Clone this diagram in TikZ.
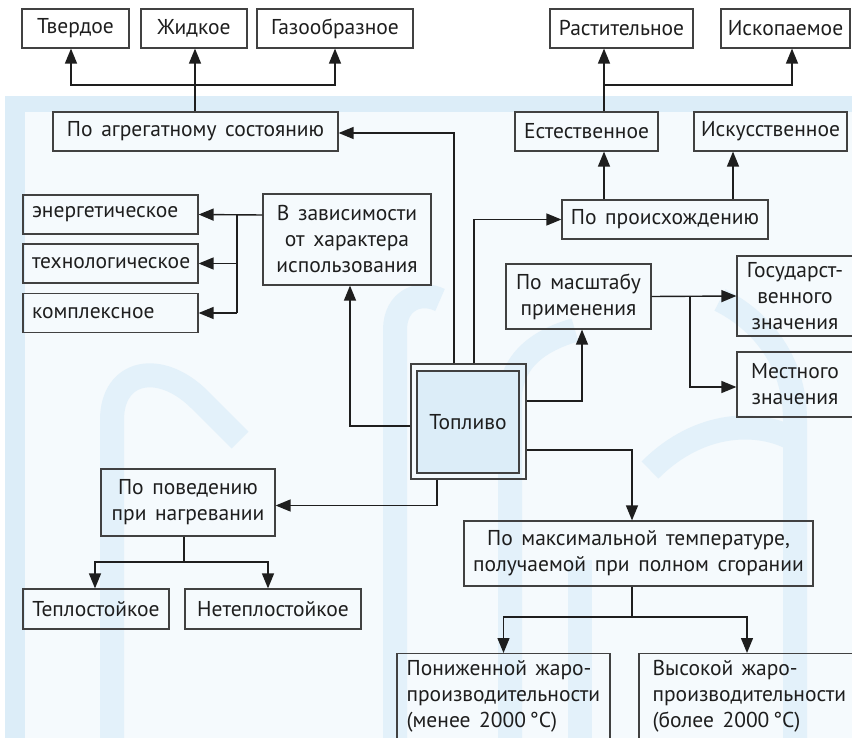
\documentclass[tikz,border=0pt]{standalone}
\usepackage{fontspec}
\setmainfont[WordSpace=1.5]{PT Sans}
\usetikzlibrary{arrows.meta,calc}
\definecolor{bandblue}{RGB}{220,237,248}
\definecolor{paleblue}{RGB}{245,250,253}
\definecolor{wmblue}{RGB}{227,241,250}
\definecolor{linegray}{RGB}{30,30,30}
\definecolor{boxgray}{RGB}{65,65,65}
\definecolor{txt}{RGB}{30,30,30}
\begin{document}
\begin{tikzpicture}[x=1pt,y=-1pt,
  font=\fontsize{21.5}{26}\selectfont,
  box/.style={draw=boxgray, line width=1.2pt, text=txt, inner sep=0pt, align=center},
  lbox/.style={draw=boxgray, line width=1.2pt, text=txt, inner ysep=0pt, inner xsep=9pt, align=left},
  arr/.style={-{Triangle[length=15pt,width=12pt]}, line width=1.4pt, draw=linegray},
  ln/.style={line width=1.4pt, draw=linegray},
  wm/.style={draw=wmblue, line width=24pt}]
\useasboundingbox (0,0) rectangle (852,738);
\clip (0,0) rectangle (852,738);
% background
\fill[white] (0,0) rectangle (852,738);
\fill[bandblue] (5,96) rectangle (852,738);
\fill[paleblue] (25,112) rectangle (852,738);
\draw[wm] (112,738) -- (112,420) .. controls (112,370) and (160,360) .. (200,400) -- (240,440);
\draw[wm] (395,738) -- (395,330) .. controls (395,300) and (420,290) .. (440,300);
\draw[wm] (510,738) -- (510,400) .. controls (510,360) and (540,340) .. (575,330);
\draw[wm] (580,738) -- (580,560);
\draw[wm] (795,738) -- (795,420) .. controls (795,360) and (760,320) .. (720,300);
\draw[wm] (650,470) .. controls (700,420) and (760,420) .. (795,440);
% top row
\node[box, minimum width=107, minimum height=39] (tv) at (75.5,28.5) {Твердое};
\node[box, minimum width=106, minimum height=39] (zh) at (194,28.5) {Жидкое};
\node[box, minimum width=156, minimum height=39] (gaz) at (335,28.5) {Газообразное};
\node[box, minimum width=143, minimum height=39] (rast) at (621.5,28.5) {Растительное};
\node[box, minimum width=129, minimum height=39] (iskop) at (785.5,28.5) {Ископаемое};
% second row
\node[box, minimum width=285, minimum height=39] (agr) at (195.5,131.5) {По агрегатному состоянию};
\node[box, minimum width=143, minimum height=39] (est) at (586.5,131.5) {Естественное};
\node[box, minimum width=153, minimum height=39] (iskus) at (770.5,131.5) {Искусственное};
\node[box, minimum width=206, minimum height=39] (proish) at (665,219.5) {По происхождению};
% left column
\node[lbox, text width=157, minimum height=39] (en) at (110.5,214.5) {энергетическое};
\node[lbox, text width=157, minimum height=39] (teh) at (110.5,263.5) {технологическое};
\node[lbox, text width=157, minimum height=39] (kompl) at (110.5,313) {комплексное};
\node[box, minimum width=168, minimum height=91] (zav) at (347,239.5) {В зависимости\\от характера\\использования};
% centre
\node[draw=boxgray, line width=1.2pt, minimum width=115, minimum height=115, inner sep=0pt] (top) at (468.5,421.5) {};
\node[box, fill=bandblue, minimum width=102, minimum height=102] (topin) at (468,422) {Топливо};
% right middle
\node[box, minimum width=145, minimum height=65] (masht) at (578.5,296.5) {По масштабу\\применения};
\node[box, minimum width=116, minimum height=80] (gos) at (795,296) {Государст-\\венного\\значения};
\node[box, minimum width=116, minimum height=65] (mest) at (795,384.5) {Местного\\значения};
% lower left
\node[box, minimum width=174, minimum height=67] (pov) at (188,502.5) {По поведению\\при нагревании};
\node[box, minimum width=146, minimum height=40] (tepl) at (96,609) {Теплостойкое};
\node[box, minimum width=176, minimum height=40] (netepl) at (273,609) {Нетеплостойкое};
% lower right
\node[box, minimum width=349, minimum height=65] (maks) at (638.5,553.5) {По максимальной температуре,\\получаемой при полном сгорании};
\node[box, anchor=north, minimum width=213, minimum height=120] (ponizh) at (503.5,653) {};
\node[anchor=north west, align=left, inner sep=0pt, text=txt] (ponizhT) at ($(ponizh.north west)+(10,7)$) {Пониженной жаро-\\производительности\\(менее 2000\,°C)};
\node[box, anchor=north, minimum width=216, minimum height=120] (vys) at (747,653) {};
\node[anchor=north west, align=left, inner sep=0pt, text=txt] (vysT) at ($(vys.north west)+(14,7)$) {Высокой жаро-\\производительности\\(более 2000\,°C)};
% connectors: aggregate state
\coordinate (jA) at (195,85);
\draw[ln] (agr.north -| jA) -- (jA);
\draw[arr] (jA) -- (jA |- zh.south);
\draw[arr] (jA) -| ($(tv.south)+(-4.5,0)$);
\draw[arr] (jA) -| (gaz.south);
% origin
\coordinate (jB) at (604,85);
\draw[ln] (est.north -| jB) -- (jB);
\draw[arr] (jB) -- (jB |- rast.south);
\draw[arr] (jB) -| ($(iskop.south)+(6.5,0)$);
\draw[arr] (proish.north -| jB) -- (jB |- est.south);
\coordinate (jB2) at (733,200);
\draw[arr] (proish.north -| jB2) -- (jB2 |- iskus.south);
% from fuel
\draw[arr] ($(top.north)+(-14.5,0)$) |- ($(agr.east)+(0,1.5)$);
\draw[arr] ($(top.north)+(5.5,0)$) |- (proish.west);
\draw[arr] ($(top.west)+(0,4.5)$) -| ($(zav.south)+(3,0)$);
\draw[arr] ($(top.east)+(0,-20.5)$) -| ($(masht.south)+(3.5,0)$);
\draw[arr] ($(top.east)+(0,28.5)$) -| ($(maks.north)+(-6.5,0)$);
\draw[arr] ($(top.south)+(-31.5,0)$) |- ($(pov.east)+(0,3)$);
% usage
\coordinate (jC) at (237,215);
\draw[arr] (zav.west |- jC) -- (en.east);
\draw[ln] (jC) -- (jC |- kompl.east);
\draw[arr] (jC |- teh.east) -- (teh.east);
\draw[arr] (jC |- kompl.east) -- (kompl.east);
% scale
\coordinate (jD) at (690,297);
\draw[arr] (masht.east) -- (gos.west);
\draw[arr] (jD) |- ($(mest.west)+(0,2.5)$);
% heating
\coordinate (jE) at (184,562);
\draw[ln] (pov.south -| jE) -- (jE);
\draw[arr] (jE) -| ($(tepl.north)+(-1,0)$);
\draw[arr] (jE) -| ($(netepl.north)+(-5,0)$);
% temperature
\coordinate (jF) at (632,617);
\draw[ln] (maks.south -| jF) -- (jF);
\draw[arr] (jF) -| (ponizh.north);
\draw[arr] (jF) -| (vys.north);
\end{tikzpicture}
\end{document}
